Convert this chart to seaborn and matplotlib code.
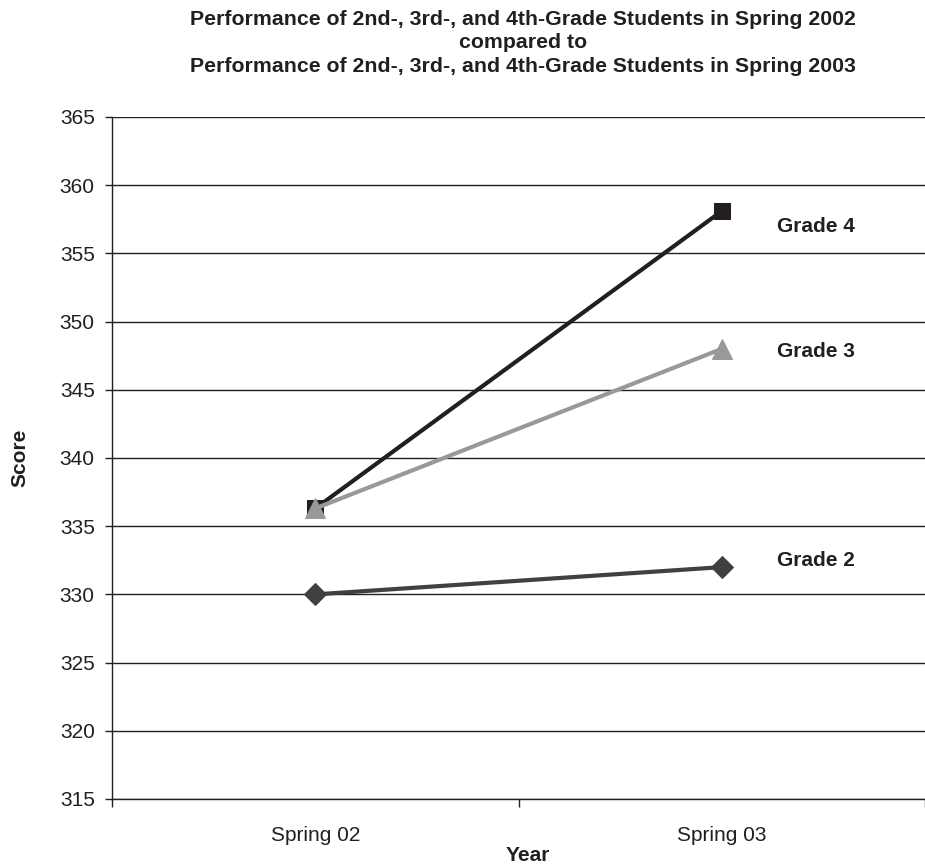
import matplotlib
matplotlib.use("Agg")
import matplotlib.pyplot as plt
import seaborn as sns
import pandas as pd

years = ["Spring 02", "Spring 03"]
grade2 = [330.0, 332.0]
grade3 = [336.3, 348.0]
grade4 = [336.3, 358.1]
series_names = ["Grade 2", "Grade 3", "Grade 4"]
yticks = [315, 320, 325, 330, 335, 340, 345, 350, 355, 360, 365]

sns.set_theme(style="white")
plt.rcParams['font.family'] = ['Liberation Sans', 'DejaVu Sans']

rows = []
for name, vals in zip(series_names, [grade2, grade3, grade4]):
    for i, (yr, v) in enumerate(zip(years, vals)):
        rows.append({"Year": yr, "pos": i + 0.5, "Score": v, "Grade": name})
df = pd.DataFrame(rows)

fig = plt.figure(figsize=(9.25, 8.64), dpi=100)
ax = fig.add_axes([112/925, 1 - 799/864, 1 - 112/925, (799 - 117)/864])

palette = {"Grade 2": "#404040", "Grade 3": "#999999", "Grade 4": "#231f20"}
markers = {"Grade 2": "D", "Grade 3": "^", "Grade 4": "s"}
sizes = {"Grade 2": 11, "Grade 3": 15, "Grade 4": 11}
widths = {"Grade 2": 3.0, "Grade 3": 3.0, "Grade 4": 3.0}

for name in ["Grade 2", "Grade 4", "Grade 3"]:
    sub = df[df["Grade"] == name]
    sns.lineplot(data=sub, x="pos", y="Score", ax=ax, color=palette[name],
                 marker=markers[name], markersize=sizes[name],
                 markeredgecolor=palette[name], linewidth=widths[name],
                 legend=False)

FS = 15
# labels at right
label_y = {"Grade 4": 357.0, "Grade 3": 347.8, "Grade 2": 332.5}
for name in series_names:
    ax.text(1.635, label_y[name], name, fontsize=FS, fontweight="bold",
            color="#231f20", va="center", ha="left")

ax.set_xlim(0, 2)
ax.set_ylim(315, 365)
ax.set_yticks(yticks)
ax.set_yticklabels([str(t) for t in yticks], fontsize=FS, color="#231f20")
ax.yaxis.grid(True, color="#231f20", linewidth=1.0)
ax.set_axisbelow(True)

ax.set_xticks([0, 1, 2])
ax.set_xticklabels(["", "", ""])
ax.set_xticks([0.5, 1.5], minor=True)
ax.set_xticklabels(years, minor=True, fontsize=FS, color="#231f20")
ax.tick_params(axis="x", which="minor", length=0, pad=19.5)
ax.tick_params(axis="x", which="major", length=6, width=1, color="#231f20", direction="out", bottom=True)
ax.tick_params(axis="y", which="major", length=5, width=1, color="#231f20", direction="out", left=True, pad=7.5)

for s in ["top", "right"]:
    ax.spines[s].set_visible(False)
for s in ["left", "bottom"]:
    ax.spines[s].set_visible(True)
    ax.spines[s].set_color("#231f20")
    ax.spines[s].set_linewidth(1.0)

ax.set_xlabel("Year", fontsize=FS, fontweight="bold", color="#231f20")
ax.xaxis.set_label_coords(0.512, -0.0695)
ax.set_ylabel("Score", fontsize=FS, fontweight="bold", color="#231f20", labelpad=22)

fig.text(523/925, 1 - 43/864,
         "Performance of 2nd-, 3rd-, and 4th-Grade Students in Spring 2002\ncompared to\nPerformance of 2nd-, 3rd-, and 4th-Grade Students in Spring 2003",
         ha="center", va="center", fontsize=15.3, fontweight="bold", color="#231f20",
         linespacing=1.27)

fig.savefig("out.png", dpi=100)
